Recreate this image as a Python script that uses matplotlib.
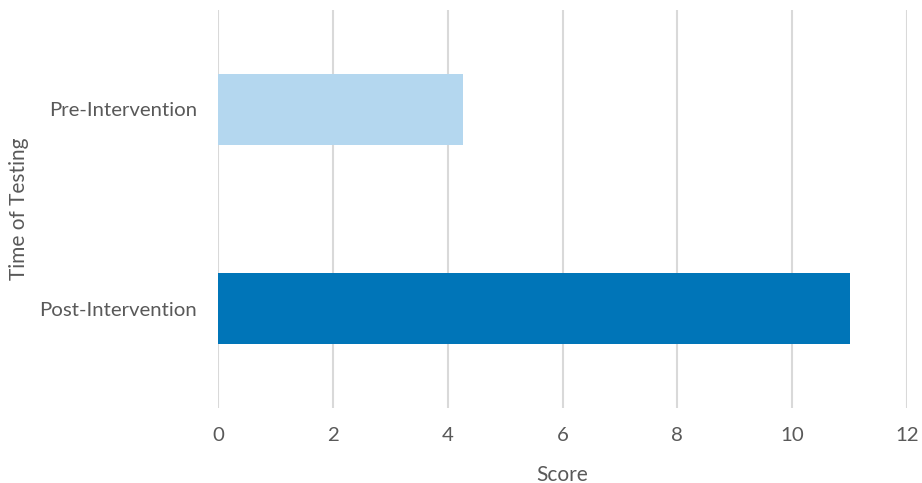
import matplotlib
matplotlib.use("Agg")
from matplotlib import pyplot as plt

categories = ["Post-Intervention", "Pre-Intervention"]
scores = [11.0, 4.27]
bar_colors = ["#0075B8", "#B4D7EF"]
x_ticks = [0, 2, 4, 6, 8, 10, 12]

plt.rcParams['font.family'] = ['Lato', 'DejaVu Sans']

fig = plt.figure(figsize=(9.22, 4.83), dpi=100)
ax = fig.add_axes([218 / 922, 75 / 483, (907 - 218) / 922, (408 - 10) / 483])

positions = range(len(categories))
ax.barh(positions, scores, height=0.357, color=bar_colors, zorder=3)

ax.set_xlim(0, 12)
ax.set_ylim(-0.5, 1.5)
ax.set_xticks(x_ticks)
ax.set_yticks(list(positions))
ax.set_yticklabels(categories)
ax.grid(axis="x", color="#D9D9D9", linewidth=1.5, zorder=0)
ax.tick_params(length=0, labelsize=14.7, colors="#595959")
ax.tick_params(axis="x", pad=14)
ax.tick_params(axis="y", pad=15)
for spine in ax.spines.values():
    spine.set_visible(False)

ax.set_xlabel("Score", fontsize=15, color="#595959", labelpad=14.5)
ax.set_ylabel("Time of Testing", fontsize=15, color="#595959", labelpad=7.5)

fig.savefig("out.png", dpi=100)
